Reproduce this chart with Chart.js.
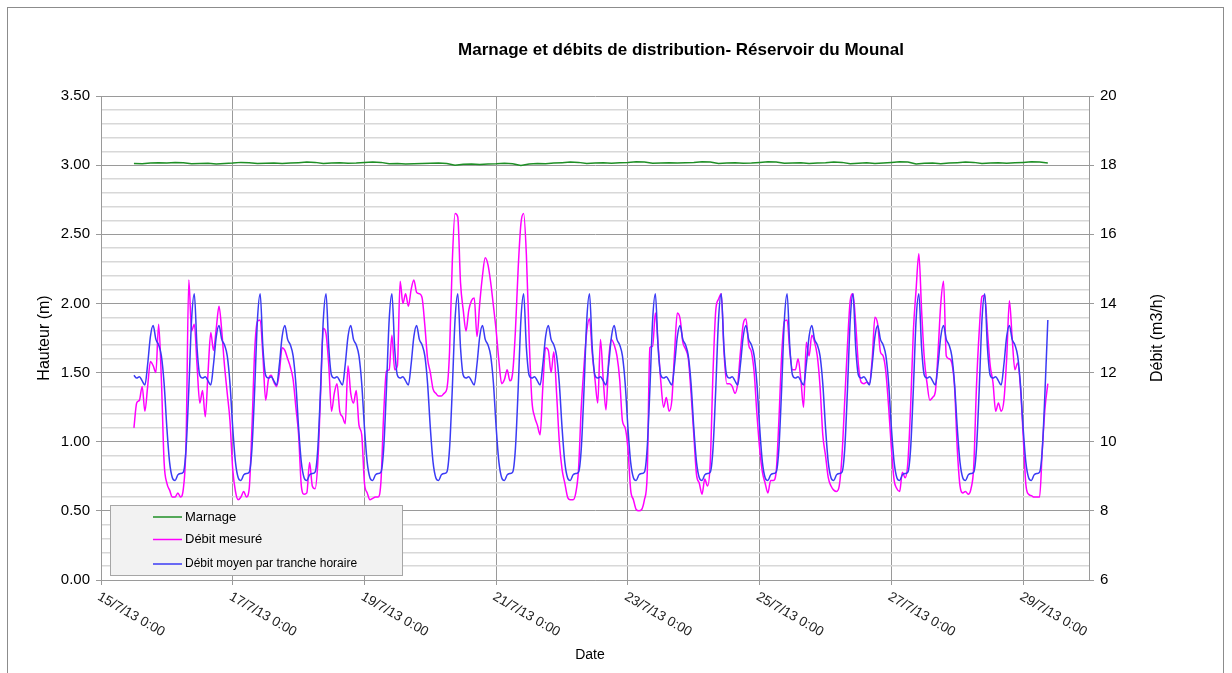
<!DOCTYPE html>
<html lang="fr">
<head>
<meta charset="utf-8">
<title>Marnage et débits de distribution - Réservoir du Mounal</title>
<script src="https://cdn.jsdelivr.net/npm/chart.js@4.4.1/dist/chart.umd.min.js"></script>
<style>
    html, body { margin: 0; padding: 0; background: #fff; }
    #graphique { display: block; }
</style>
</head>
<body>
<canvas id="graphique" width="1232" height="673"></canvas>
<script>
// Libellés de l'axe des dates (un tous les 2 jours, jour 0 = 15/7/13 0:00)
const etiquettesDates = ['15/7/13 0:00', '17/7/13 0:00', '19/7/13 0:00', '21/7/13 0:00',
    '23/7/13 0:00', '25/7/13 0:00', '27/7/13 0:00', '29/7/13 0:00'];

// Hauteur d'eau (m), un point toutes les 3 h depuis le 15/7 12:00
const marnage = [
    3.012, 3.010, 3.015, 3.018,
    3.016, 3.020, 3.018, 3.010, 3.012, 3.014, 3.008, 3.012,
    3.015, 3.020, 3.018, 3.012, 3.014, 3.016, 3.012, 3.015,
    3.018, 3.022, 3.020, 3.012, 3.015, 3.018, 3.014, 3.016,
    3.020, 3.022, 3.020, 3.010, 3.012, 3.008, 3.010, 3.012,
    3.014, 3.016, 3.012, 3.000, 3.006, 3.008, 3.004, 3.008,
    3.010, 3.014, 3.010, 2.998, 3.008, 3.012, 3.010, 3.015,
    3.018, 3.022, 3.020, 3.012, 3.015, 3.018, 3.014, 3.018,
    3.020, 3.024, 3.022, 3.014, 3.016, 3.018, 3.015, 3.018,
    3.020, 3.024, 3.022, 3.012, 3.016, 3.018, 3.014, 3.016,
    3.020, 3.024, 3.022, 3.014, 3.016, 3.018, 3.012, 3.016,
    3.018, 3.022, 3.020, 3.010, 3.014, 3.018, 3.012, 3.016,
    3.020, 3.024, 3.022, 3.008, 3.014, 3.016, 3.010, 3.015,
    3.018, 3.022, 3.020, 3.012, 3.016, 3.018, 3.014, 3.017,
    3.020, 3.024, 3.022, 3.016
];

// Débit mesuré (m3/h), valeurs horaires jour par jour
const debit15 = [10.40, 11.12, 11.20, 11.60, 10.88, 11.60, 12.32, 12.20, 12.00, 13.40, 11.80, 9.40]; // de 12:00 à 23:00
const debit16 = [8.80, 8.60, 8.40, 8.40, 8.52, 8.40, 8.64, 10.00, 14.68, 13.20, 13.40, 12.20, 11.12, 11.48, 10.72, 12.00, 13.16, 12.64, 13.28, 13.92, 13.20, 12.20, 11.40, 10.60];
const debit17 = [9.20, 8.56, 8.32, 8.40, 8.56, 8.40, 8.64, 10.40, 12.64, 13.48, 13.52, 12.48, 11.20, 11.80, 11.92, 11.72, 11.60, 12.00, 12.72, 12.64, 12.40, 12.16, 11.80, 11.00];
const debit18 = [10.20, 8.72, 8.48, 8.52, 9.40, 8.72, 8.64, 9.40, 11.36, 13.28, 13.12, 12.20, 10.88, 11.40, 11.68, 10.88, 10.72, 10.52, 12.20, 11.40, 11.12, 11.48, 10.48, 10.20];
const debit19 = [8.80, 8.52, 8.32, 8.36, 8.40, 8.40, 8.84, 10.80, 12.04, 12.08, 13.08, 12.08, 12.20, 14.64, 14.00, 14.28, 13.92, 14.40, 14.68, 14.32, 14.28, 14.16, 13.36, 12.40];
const debit20 = [12.00, 11.52, 11.40, 11.32, 11.32, 11.40, 11.52, 12.60, 15.20, 16.60, 16.50, 14.60, 13.80, 13.20, 13.80, 14.08, 14.16, 13.04, 14.00, 14.80, 15.32, 15.12, 14.60, 13.92];
const debit21 = [13.20, 12.32, 11.68, 11.80, 12.08, 11.76, 12.00, 13.20, 15.00, 16.30, 16.60, 15.40, 13.00, 11.20, 10.72, 10.48, 10.20, 11.60, 12.72, 12.64, 12.00, 12.60, 11.40, 10.00];
const debit22 = [9.20, 8.80, 8.40, 8.32, 8.32, 8.52, 9.20, 11.00, 12.20, 13.20, 13.56, 12.56, 11.80, 11.12, 12.96, 11.80, 10.92, 12.40, 12.96, 12.80, 12.48, 11.80, 10.60, 10.40];
const debit23 = [9.80, 8.60, 8.32, 8.04, 8.00, 8.04, 8.32, 9.00, 12.72, 12.76, 13.72, 12.80, 11.72, 11.00, 11.28, 10.88, 11.20, 12.60, 13.72, 13.56, 12.88, 12.68, 12.40, 11.40];
const debit24 = [10.20, 9.04, 8.80, 8.48, 8.92, 8.72, 9.40, 12.00, 13.80, 14.12, 14.28, 12.60, 11.68, 11.68, 11.60, 11.40, 11.68, 12.60, 13.40, 13.56, 12.80, 12.60, 12.00, 10.80];
const debit25 = [9.80, 9.12, 8.80, 8.52, 8.88, 8.88, 9.12, 10.60, 12.48, 13.48, 13.52, 12.60, 12.08, 12.08, 12.40, 11.80, 11.00, 12.88, 12.48, 13.08, 12.88, 12.48, 11.60, 10.20];
const debit26 = [9.60, 8.96, 8.72, 8.60, 8.56, 8.72, 9.60, 11.20, 12.80, 14.08, 14.28, 13.40, 12.20, 11.72, 11.68, 11.72, 11.68, 12.40, 13.60, 13.40, 12.60, 12.48, 12.00, 11.00];
const debit27 = [9.80, 8.88, 8.64, 8.56, 9.12, 8.96, 9.40, 11.00, 13.20, 14.40, 15.44, 13.80, 12.40, 11.68, 11.20, 11.28, 11.44, 12.60, 14.00, 14.64, 12.48, 12.40, 12.28, 11.60];
const debit28 = [9.80, 8.72, 8.52, 8.56, 8.48, 8.64, 9.28, 11.60, 13.20, 14.20, 14.24, 13.20, 12.20, 11.72, 10.88, 11.12, 10.88, 11.20, 12.40, 14.08, 13.00, 12.08, 12.28, 11.60];
const debit29 = [10.20, 8.76, 8.48, 8.44, 8.40, 8.40, 8.40, 9.80, 11.00, 11.68]; // de 0:00 à 9:00

// Débit moyen par tranche horaire (m3/h), de 0:00 à 23:00
const moyenneHoraire = [10.40, 9.40, 8.96, 8.88, 9.04, 9.08, 9.12, 9.80, 11.52, 13.52, 14.28, 12.72,
    11.92, 11.84, 11.88, 11.76, 11.64, 12.24, 13.04, 13.36, 12.96, 12.80, 12.48, 11.68];

// Début des séries : 15/7 12:00 (en jours)
const debutSerie = 0.5;
const heureDebut = 12;

const debitMesure = [].concat(debit15, debit16, debit17, debit18, debit19, debit20, debit21,
    debit22, debit23, debit24, debit25, debit26, debit27, debit28, debit29);

const pointsMarnage = marnage.map((v, i) => ({ x: debutSerie + i / 8, y: v }));
const pointsMesure = debitMesure.map((v, i) => ({ x: debutSerie + i / 24, y: v }));
const pointsMoyenne = debitMesure.map((v, i) => ({
    x: debutSerie + i / 24,
    y: moyenneHoraire[(heureDebut + i) % 24]
}));

const police = '"Liberation Sans", Arial, sans-serif';
Chart.defaults.font.family = police;
Chart.defaults.color = '#000';

function estMajeur(v) {
    return Math.abs(v * 2 - Math.round(v * 2)) < 1e-6;
}

// Titre, titres d'axes, dates inclinées, légende et cadre
const habillage = {
    id: 'habillage',
    beforeDraw(chart) {
        const ctx = chart.ctx;
        ctx.save();
        ctx.fillStyle = '#fff';
        ctx.fillRect(0, 0, chart.width, chart.height);
        ctx.restore();
    },
    afterDraw(chart) {
        const ctx = chart.ctx;
        const zone = chart.chartArea;
        const xs = chart.scales.x;
        const milieu = (zone.top + zone.bottom) / 2;

        ctx.save();
        ctx.strokeStyle = '#8c8c8c';
        ctx.lineWidth = 1;
        ctx.strokeRect(7.5, 7.5, 1216, 700);

        ctx.fillStyle = '#000';
        ctx.textAlign = 'center';
        ctx.textBaseline = 'middle';
        ctx.font = 'bold 17px ' + police;
        ctx.fillText('Marnage et débits de distribution- Réservoir du Mounal', 681, 50);

        ctx.font = '16px ' + police;
        ctx.save();
        ctx.translate(45, milieu);
        ctx.rotate(-Math.PI / 2);
        ctx.fillText('Hauteur (m)', 0, 0);
        ctx.restore();
        ctx.save();
        ctx.translate(1158, milieu);
        ctx.rotate(-Math.PI / 2);
        ctx.fillText('Débit (m3/h)', 0, 0);
        ctx.restore();

        ctx.font = '14px ' + police;
        ctx.fillText('Date', 590, 655);

        // dates inclinées à 30°
        ctx.font = '13.5px ' + police;
        ctx.textAlign = 'left';
        ctx.textBaseline = 'top';
        ctx.fillStyle = '#222';
        xs.ticks.forEach(t => {
            const px = xs.getPixelForValue(t.value);
            ctx.save();
            ctx.translate(px + 1, zone.bottom + 10);
            ctx.rotate(Math.PI / 6);
            ctx.fillText(etiquettesDates[t.value / 2], 0, 0);
            ctx.restore();
        });

        // légende
        ctx.fillStyle = '#f2f2f2';
        ctx.fillRect(110.5, 505.5, 292, 70);
        ctx.strokeStyle = '#a6a6a6';
        ctx.strokeRect(110.5, 505.5, 292, 70);
        const lignes = [517, 539.5, 564];
        const polices = ['13px ', '13px ', '12px '];
        ctx.textBaseline = 'middle';
        chart.data.datasets.forEach((ds, i) => {
            ctx.strokeStyle = ds.borderColor;
            ctx.lineWidth = 1.5;
            ctx.beginPath();
            ctx.moveTo(153, lignes[i]);
            ctx.lineTo(182, lignes[i]);
            ctx.stroke();
            ctx.fillStyle = '#000';
            ctx.font = polices[i] + police;
            ctx.fillText(ds.label, 185, lignes[i]);
        });
        ctx.restore();
    }
};

const ctx = document.getElementById('graphique').getContext('2d');
const chart = new Chart(ctx, {
    type: 'line',
    data: {
        datasets: [{
            label: 'Marnage',
            data: pointsMarnage,
            yAxisID: 'y',
            borderColor: '#1f8f26',
            borderWidth: 1.5,
            pointRadius: 0,
            order: 2
        }, {
            label: 'Débit mesuré',
            data: pointsMesure,
            yAxisID: 'y1',
            borderColor: '#ff00ff',
            borderWidth: 1.5,
            pointRadius: 0,
            cubicInterpolationMode: 'monotone',
            order: 1
        }, {
            label: 'Débit moyen par tranche horaire',
            data: pointsMoyenne,
            yAxisID: 'y1',
            borderColor: '#3b3bf5',
            borderWidth: 1.5,
            pointRadius: 0,
            cubicInterpolationMode: 'monotone',
            order: 0
        }]
    },
    options: {
        responsive: false,
        animation: false,
        devicePixelRatio: 1,
        layout: { padding: { top: 96, left: 0, right: 0, bottom: 0 } },
        plugins: {
            legend: { display: false },
            title: { display: false },
            tooltip: { enabled: false }
        },
        scales: {
            x: {
                type: 'linear',
                min: 0,
                max: 15,
                ticks: { stepSize: 2, display: false },
                afterBuildTicks: scale => {
                    scale.ticks = scale.ticks.filter(t => t.value % 2 === 0);
                },
                afterFit: scale => { scale.height = 93; },
                grid: { color: '#9a9a9a', lineWidth: 1, tickLength: 5, tickColor: '#9a9a9a' },
                border: { color: '#9a9a9a' }
            },
            y: {
                position: 'left',
                min: 0,
                max: 3.5,
                ticks: {
                    stepSize: 0.1,
                    autoSkip: false,
                    padding: 6,
                    font: { size: 15 },
                    callback: v => estMajeur(v) ? v.toFixed(2) : ''
                },
                afterFit: scale => { scale.width = 101; },
                grid: {
                    color: c => estMajeur(c.tick.value) ? '#9a9a9a' : '#d8d8d8',
                    lineWidth: c => estMajeur(c.tick.value) ? 1 : 1.5,
                    tickLength: 5,
                    tickColor: c => estMajeur(c.tick.value) ? '#9a9a9a' : 'rgba(0,0,0,0)'
                },
                border: { color: '#9a9a9a' }
            },
            y1: {
                position: 'right',
                min: 6,
                max: 20,
                ticks: { stepSize: 2, padding: 6, font: { size: 15 } },
                afterFit: scale => { scale.width = 143; },
                grid: { drawOnChartArea: false, tickLength: 5, tickColor: '#9a9a9a' },
                border: { color: '#9a9a9a' }
            }
        }
    },
    plugins: [habillage]
});
</script>
</body>
</html>
